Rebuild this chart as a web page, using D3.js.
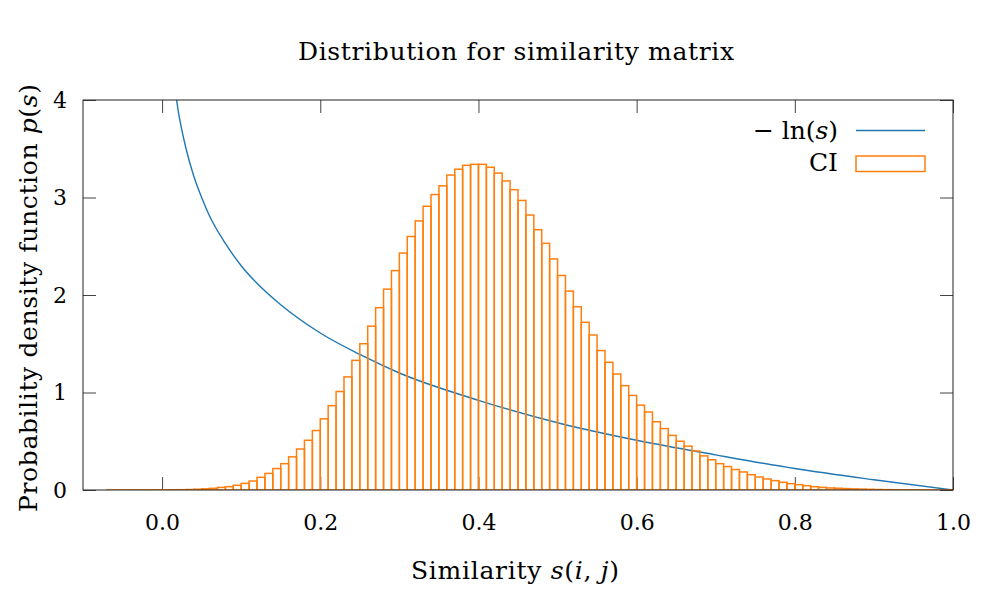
<!DOCTYPE html>
<html>
<head>
<meta charset="utf-8">
<script src="https://cdn.jsdelivr.net/npm/d3@7"></script>
<style>
  body { margin: 0; background: #fff; }
  svg text { font-family: "DejaVu Serif", "Liberation Serif", serif; fill: #000; }
</style>
</head>
<body>
<div id="chart"></div>
<script>
// histogram bins, width 0.01, left edges from -0.07 to 0.99
const binStart = -0.07;
const binWidth = 0.01;
const ciValues = [
  0.0003, 0.0004, 0.0005, 0.0006, 0.0008, 0.001, 0.0012,
  0.0015, 0.002, 0.003, 0.005, 0.008, 0.012, 0.017, 0.027, 0.034, 0.048,
  0.068, 0.092, 0.13, 0.17, 0.22, 0.27, 0.34, 0.42, 0.51, 0.61,
  0.73, 0.865, 1.01, 1.16, 1.33, 1.50, 1.68, 1.87, 2.06, 2.25,
  2.43, 2.60, 2.76, 2.91, 3.03, 3.12, 3.23, 3.29, 3.33, 3.34,
  3.34, 3.31, 3.25, 3.17, 3.08, 2.97, 2.82, 2.67, 2.53, 2.37,
  2.20, 2.04, 1.88, 1.72, 1.59, 1.43, 1.31, 1.19, 1.07, 0.97,
  0.87, 0.80, 0.70, 0.63, 0.56, 0.50, 0.45, 0.40, 0.35, 0.31,
  0.27, 0.24, 0.21, 0.185, 0.157, 0.133, 0.113, 0.096, 0.079, 0.065,
  0.055, 0.044, 0.034, 0.027, 0.021, 0.018, 0.014, 0.011, 0.009, 0.007,
  0.005, 0.004, 0.003, 0.002, 0.0015, 0.001, 0.001, 0.0008, 0.0005, 0.0003
];

// -ln(s) curve, points
const lnS = [0.018, 0.02, 0.025, 0.03, 0.04, 0.05, 0.06, 0.08, 0.10, 0.12, 0.15,
             0.20, 0.25, 0.30, 0.40, 0.50, 0.60, 0.70, 0.80, 0.90, 1.00];
const lnP = [4.02, 3.91, 3.69, 3.51, 3.22, 3.00, 2.81, 2.53, 2.30, 2.12, 1.90,
             1.61, 1.39, 1.20, 0.92, 0.69, 0.51, 0.36, 0.22, 0.105, 0.0];

const xTicks = [0.0, 0.2, 0.4, 0.6, 0.8, 1.0];
const yTicks = [0, 1, 2, 3, 4];

const W = 996, H = 598;
const margin = { top: 100, right: 43, bottom: 108, left: 83 };
const width = W - margin.left - margin.right;
const height = H - margin.top - margin.bottom;
const blue = "#1f77b4", orange = "#ff7f0e";

const svg = d3.select("#chart").append("svg")
  .attr("width", W).attr("height", H);

const g = svg.append("g")
  .attr("transform", `translate(${margin.left},${margin.top})`);

const x = d3.scaleLinear().domain([-0.1, 1.0]).range([0, width]);
const y = d3.scaleLinear().domain([0, 4]).range([height, 0]);

svg.append("defs").append("clipPath").attr("id", "plot-clip")
  .append("rect").attr("width", width).attr("height", height);

// axes, ticks pointing inward on all four sides
const tickLen = 13;
const axBottom = g.append("g").attr("transform", `translate(0,${height})`)
  .call(d3.axisBottom(x).tickValues(xTicks).tickFormat(d3.format(".1f"))
    .tickSizeInner(-tickLen).tickSizeOuter(0).tickPadding(24));
const axTop = g.append("g")
  .call(d3.axisTop(x).tickValues(xTicks).tickFormat("")
    .tickSizeInner(-tickLen).tickSizeOuter(0));
const axLeft = g.append("g")
  .call(d3.axisLeft(y).tickValues(yTicks).tickFormat(d3.format("d"))
    .tickSizeInner(-tickLen).tickSizeOuter(0).tickPadding(16));
const axRight = g.append("g").attr("transform", `translate(${width},0)`)
  .call(d3.axisRight(y).tickValues(yTicks).tickFormat("")
    .tickSizeInner(-tickLen).tickSizeOuter(0));

[axBottom, axTop, axLeft, axRight].forEach(a => {
  a.select(".domain").remove();
  a.selectAll(".tick line").attr("stroke", "#444");
  a.selectAll("text").attr("font-size", 22).attr("font-family", null);
});

const plot = g.append("g").attr("clip-path", "url(#plot-clip)");

// -ln(s)
plot.append("path")
  .datum(lnS.map((s, i) => [s, lnP[i]]))
  .attr("fill", "none")
  .attr("stroke", blue)
  .attr("stroke-width", 1.4)
  .attr("d", d3.line().x(d => x(d[0])).y(d => y(d[1])).curve(d3.curveMonotoneX));

// CI histogram
plot.selectAll("rect.bin")
  .data(ciValues)
  .join("rect")
  .attr("class", "bin")
  .attr("x", (d, i) => x(binStart + i * binWidth))
  .attr("y", d => y(d))
  .attr("width", (d, i) => x(binStart + (i + 1) * binWidth) - x(binStart + i * binWidth))
  .attr("height", d => y(0) - y(d))
  .attr("fill", "none")
  .attr("stroke", orange)
  .attr("stroke-width", 1.5);

// frame
g.append("rect")
  .attr("width", width).attr("height", height)
  .attr("fill", "none").attr("stroke", "#222").attr("stroke-width", 1);

// title
svg.append("text")
  .attr("x", 516).attr("y", 60)
  .attr("text-anchor", "middle").attr("font-size", 25)
  .attr("textLength", 436).attr("lengthAdjust", "spacing")
  .text("Distribution for similarity matrix");

// x label
const xl = svg.append("text")
  .attr("x", 515).attr("y", 579)
  .attr("text-anchor", "middle").attr("font-size", 25)
  .attr("textLength", 208).attr("lengthAdjust", "spacing");
xl.append("tspan").text("Similarity ");
xl.append("tspan").attr("font-style", "italic").text("s");
xl.append("tspan").text("(");
xl.append("tspan").attr("font-style", "italic").text("i");
xl.append("tspan").text(", ");
xl.append("tspan").attr("font-style", "italic").text("j");
xl.append("tspan").text(")");

// y label
const yl = svg.append("text")
  .attr("transform", `translate(37,298) rotate(-90)`)
  .attr("text-anchor", "middle").attr("font-size", 25)
  .attr("textLength", 428).attr("lengthAdjust", "spacing");
yl.append("tspan").text("Probability density function ");
yl.append("tspan").attr("font-style", "italic").text("p");
yl.append("tspan").text("(");
yl.append("tspan").attr("font-style", "italic").text("s");
yl.append("tspan").text(")");

// legend
const legend = svg.append("g");
const l1 = legend.append("text")
  .attr("x", 838).attr("y", 139)
  .attr("text-anchor", "end").attr("font-size", 25)
  .attr("textLength", 85).attr("lengthAdjust", "spacing");
l1.append("tspan").text("\u2212 ln(");
l1.append("tspan").attr("font-style", "italic").text("s");
l1.append("tspan").text(")");
legend.append("line")
  .attr("x1", 856).attr("x2", 925).attr("y1", 130.5).attr("y2", 130.5)
  .attr("stroke", blue).attr("stroke-width", 1.4);
legend.append("text")
  .attr("x", 838).attr("y", 171)
  .attr("text-anchor", "end").attr("font-size", 25)
  .text("CI");
legend.append("rect")
  .attr("x", 856).attr("y", 156).attr("width", 69).attr("height", 15.5)
  .attr("fill", "none").attr("stroke", orange).attr("stroke-width", 1.5);
</script>
</body>
</html>
